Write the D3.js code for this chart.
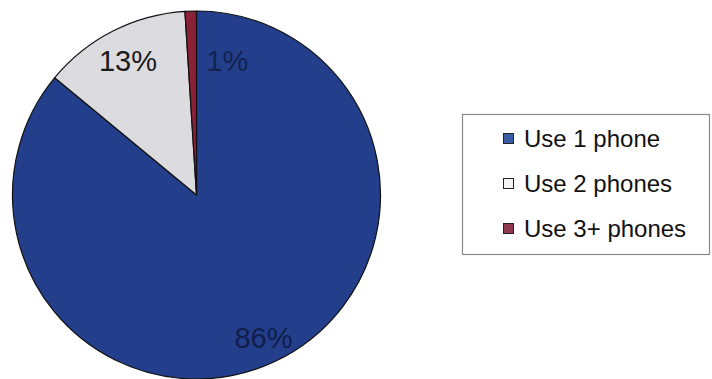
<!DOCTYPE html>
<html>
<head>
<meta charset="utf-8">
<script src="https://cdn.jsdelivr.net/npm/d3@7"></script>
<style>
  html, body { margin: 0; padding: 0; background: #ffffff; }
  svg { display: block; font-family: Arial, "Liberation Sans", sans-serif; }
</style>
</head>
<body>
<svg id="chart" width="712" height="379"></svg>
<script>
// Share of respondents by number of phones used
const categories = ["Use 1 phone", "Use 2 phones", "Use 3+ phones"];
const shares = [86, 13, 1];
const labels = ["86%", "13%", "1%"];
const sliceColors = ["#233f8c", "#dcdce0", "#8a2136"];
const swatchColors = ["#3b5aa6", "#f4f4f4", "#8e3a4c"];
const labelColors = ["#101d4d", "#1a1a1a", "#13224f"];

const svg = d3.select("#chart");
const cx = 196.5, cy = 195, r = 184;

const pie = d3.pie().sort(null).value(d => d)(shares);
const arc = d3.arc().innerRadius(0).outerRadius(r);

const g = svg.append("g").attr("transform", `translate(${cx},${cy})`);
g.selectAll("path.slice")
  .data(pie)
  .join("path")
  .attr("class", "slice")
  .attr("d", arc)
  .attr("fill", (d, i) => sliceColors[i])
  .attr("stroke", "#111")
  .attr("stroke-width", 1.2)
  .attr("stroke-linejoin", "round");

// Data labels: placed by arc radius fractions along each slice's mid-angle
const labelRadius = [0.855, 0.82, 0.73];
const labelShift = [[0, 0], [0, 0], [35, 0]];
g.selectAll("text.lbl")
  .data(pie)
  .join("text")
  .attr("class", "lbl")
  .attr("transform", (d, i) => {
    const a = (d.startAngle + d.endAngle) / 2;
    const rr = r * labelRadius[i];
    return `translate(${Math.sin(a) * rr + labelShift[i][0]},${-Math.cos(a) * rr + labelShift[i][1]})`;
  })
  .attr("text-anchor", "middle")
  .attr("dy", "0.36em")
  .attr("font-size", 29)
  .attr("fill", (d, i) => labelColors[i])
  .text((d, i) => labels[i]);

// Legend
const legend = svg.append("g");
legend.append("rect")
  .attr("x", 462.5).attr("y", 114.5)
  .attr("width", 247).attr("height", 140)
  .attr("fill", "#fff")
  .attr("stroke", "#8a8a8a")
  .attr("stroke-width", 1.2);

const rowY = d3.scalePoint().domain(categories).range([138, 228]);
const items = legend.selectAll("g.item")
  .data(categories)
  .join("g")
  .attr("class", "item")
  .attr("transform", d => `translate(503,${rowY(d)})`);
items.append("rect")
  .attr("x", 0.5).attr("y", -4.5)
  .attr("width", 10).attr("height", 10)
  .attr("fill", (d, i) => swatchColors[i])
  .attr("stroke", "#222")
  .attr("stroke-width", 1);
items.append("text")
  .attr("x", 21)
  .attr("y", 0)
  .attr("dy", "0.36em")
  .attr("font-size", 24)
  .attr("fill", "#111")
  .text(d => d);
</script>
</body>
</html>
